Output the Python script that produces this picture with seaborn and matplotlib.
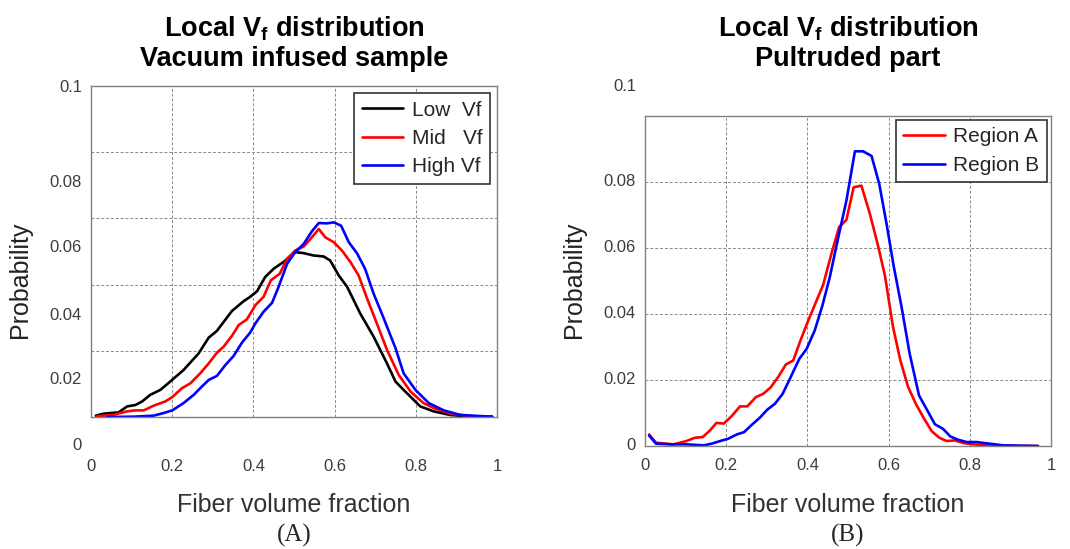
import numpy as np
import pandas as pd
import seaborn as sns
import matplotlib.pyplot as plt

sns.set_style("white")
plt.rcParams["font.family"] = ["Liberation Sans", "DejaVu Sans"]
plt.rcParams["mathtext.fontset"] = "custom"
plt.rcParams["mathtext.rm"] = "Liberation Sans"
plt.rcParams["mathtext.bf"] = "Liberation Sans:bold"

# Panel A: vacuum infused sample
low_x = [0.012, 0.031, 0.068, 0.089, 0.109, 0.126, 0.146, 0.171, 0.195, 0.228, 0.265, 0.29, 0.31,
         0.347, 0.376, 0.392, 0.409, 0.429, 0.45, 0.475, 0.503, 0.524, 0.548, 0.573, 0.589, 0.61,
         0.631, 0.663, 0.696, 0.729, 0.75, 0.774, 0.811, 0.844, 0.885, 0.926, 0.988]
low_y = [0.0004, 0.001, 0.0014, 0.0032, 0.0036, 0.0047, 0.0067, 0.0082, 0.0107, 0.0142, 0.0192,
         0.024, 0.026, 0.032, 0.035, 0.0363, 0.038, 0.0423, 0.0448, 0.0469, 0.0498, 0.0495, 0.0488,
         0.0485, 0.0473, 0.0428, 0.0393, 0.0313, 0.0243, 0.0162, 0.0107, 0.0077, 0.0032, 0.0017,
         0.0006, 0.0002, 0.0001]

mid_x = [0.015, 0.056, 0.089, 0.109, 0.13, 0.154, 0.183, 0.2, 0.224, 0.245, 0.269, 0.29, 0.31,
         0.327, 0.347, 0.364, 0.384, 0.405, 0.425, 0.443, 0.465, 0.483, 0.503, 0.524, 0.544, 0.561,
         0.577, 0.598, 0.618, 0.639, 0.659, 0.68, 0.704, 0.729, 0.758, 0.787, 0.819, 0.844, 0.885,
         0.943, 0.988]
mid_y = [0.0002, 0.0007, 0.0017, 0.002, 0.002, 0.0034, 0.0047, 0.006, 0.0087, 0.0102, 0.0132,
         0.0162, 0.0194, 0.0213, 0.0245, 0.0278, 0.0295, 0.0338, 0.0363, 0.0413, 0.0433, 0.0478,
         0.0503, 0.0515, 0.0543, 0.0568, 0.0543, 0.0528, 0.0503, 0.0468, 0.0428, 0.0358, 0.0283,
         0.0203, 0.0127, 0.0077, 0.0042, 0.0027, 0.001, 0.0002, 0.0001]

high_x = [0.039, 0.105, 0.154, 0.179, 0.2, 0.228, 0.253, 0.269, 0.29, 0.31, 0.331, 0.351, 0.372,
          0.392, 0.405, 0.425, 0.446, 0.462, 0.483, 0.503, 0.524, 0.544, 0.561, 0.581, 0.598, 0.616,
          0.635, 0.655, 0.675, 0.696, 0.721, 0.75, 0.77, 0.799, 0.832, 0.869, 0.91, 0.988]
high_y = [0.0, 0.0001, 0.0004, 0.0012, 0.002, 0.0042, 0.0067, 0.0087, 0.0112, 0.0124, 0.0157,
          0.0184, 0.0225, 0.0255, 0.0283, 0.0318, 0.0345, 0.0393, 0.0463, 0.0498, 0.0523, 0.0561,
          0.0586, 0.0585, 0.0588, 0.0578, 0.0528, 0.0495, 0.0448, 0.0373, 0.0298, 0.0208, 0.0132,
          0.0082, 0.0042, 0.002, 0.0006, 0.0001]

# Panel B: pultruded part
regA_x = [0.01, 0.027, 0.07, 0.102, 0.123, 0.142, 0.16, 0.176, 0.194, 0.213, 0.234, 0.252, 0.273,
          0.291, 0.309, 0.328, 0.347, 0.365, 0.383, 0.402, 0.421, 0.439, 0.459, 0.478, 0.496, 0.514,
          0.533, 0.554, 0.574, 0.591, 0.611, 0.629, 0.648, 0.667, 0.685, 0.706, 0.725, 0.743, 0.763,
          0.784, 0.808, 0.849, 0.907, 0.968]
regA_y = [0.0035, 0.001, 0.0005, 0.0015, 0.0025, 0.0027, 0.0047, 0.007, 0.0068, 0.009, 0.012, 0.012,
          0.0148, 0.0158, 0.0177, 0.0209, 0.0247, 0.0259, 0.032, 0.038, 0.0436, 0.0489, 0.0582,
          0.0663, 0.0685, 0.0784, 0.0789, 0.0703, 0.0607, 0.0516, 0.036, 0.0259, 0.0179, 0.0128,
          0.0088, 0.0045, 0.0025, 0.0015, 0.0017, 0.0009, 0.0005, 0.0001, 0.0, 0.0]

regB_x = [0.01, 0.027, 0.062, 0.102, 0.144, 0.164, 0.185, 0.205, 0.226, 0.244, 0.262, 0.283, 0.301,
          0.32, 0.339, 0.357, 0.38, 0.398, 0.418, 0.437, 0.455, 0.476, 0.496, 0.517, 0.537, 0.558,
          0.577, 0.595, 0.613, 0.632, 0.652, 0.675, 0.693, 0.714, 0.734, 0.752, 0.771, 0.792, 0.816,
          0.849, 0.882, 0.968]
regB_y = [0.0032, 0.0007, 0.0005, 0.0005, 0.0002, 0.0007, 0.0015, 0.0022, 0.0035, 0.0042, 0.0063,
          0.0086, 0.011, 0.0128, 0.0158, 0.0204, 0.0264, 0.0294, 0.035, 0.0426, 0.0511, 0.0632,
          0.0743, 0.0893, 0.0893, 0.0879, 0.0794, 0.0673, 0.0542, 0.0421, 0.0279, 0.0153, 0.0113,
          0.0066, 0.0052, 0.0029, 0.0019, 0.0012, 0.0012, 0.0007, 0.0002, 0.0]

xticks = [0, 0.2, 0.4, 0.6, 0.8, 1]
xtick_labels = ["0", "0.2", "0.4", "0.6", "0.8", "1"]
ygrid = [0.02, 0.04, 0.06, 0.08]
ytick_labels = ["0", "0.02", "0.04", "0.06", "0.08", "0.1"]
# where the y labels sit in the source picture (they are offset from the grid)
left_label_pos = [-0.0085, 0.0112, 0.0308, 0.0511, 0.0707, 0.0994]
right_label_pos = [0.0, 0.02, 0.04, 0.06, 0.08, 0.1088]

fig = plt.figure(figsize=(10.7, 5.49), dpi=100)
axA = fig.add_axes([91 / 1070, 1 - 417 / 549, 406 / 1070, 331 / 549])
axB = fig.add_axes([645 / 1070, 1 - 446 / 549, 406 / 1070, 330 / 549])


def style_axes(ax, label_pos, xpad, ylab_y, xlab_y, title, title_y):
    ax.set_xlim(0, 1)
    ax.set_ylim(0, 0.1)
    ax.set_xticks(xticks)
    ax.set_xticklabels(xtick_labels, fontsize=12, color="#3c3c3c")
    ax.set_yticks(ygrid)
    ax.set_yticklabels([])
    ax.tick_params(length=0)
    ax.tick_params(axis="x", pad=xpad)
    ax.grid(True, linestyle=(0, (3, 2)), color="#8a8a8a", linewidth=0.7)
    for s in ax.spines.values():
        s.set_color("#808080")
        s.set_linewidth(1.0)
    for v, t in zip(label_pos, ytick_labels):
        ax.text(-0.022, v, t, transform=ax.get_yaxis_transform(), ha="right", va="center",
                fontsize=12, color="#3c3c3c", clip_on=False)
    ax.set_ylabel("Probability", fontsize=18, color="#222222")
    ax.yaxis.set_label_coords(-0.145, ylab_y)
    ax.set_xlabel("Fiber volume fraction", fontsize=18, color="#333333")
    ax.xaxis.set_label_coords(0.5, xlab_y)
    ax.set_title(title, fontsize=19.5, fontweight="bold", color="black",
                 y=title_y, pad=0, linespacing=1.15)


sns.lineplot(x=low_x, y=low_y, color="black", lw=1.9, label="Low  Vf", ax=axA)
sns.lineplot(x=mid_x, y=mid_y, color="#ff0000", lw=1.9, label="Mid   Vf", ax=axA)
sns.lineplot(x=high_x, y=high_y, color="#0000ff", lw=1.9, label="High Vf", ax=axA)

sns.lineplot(x=regA_x, y=regA_y, color="#ff0000", lw=1.9, label="Region A", ax=axB)
sns.lineplot(x=regB_x, y=regB_y, color="#0000ff", lw=1.9, label="Region B", ax=axB)

style_axes(axA, left_label_pos, 30, 0.414, -0.23,
           "Local V$_\\mathbf{f}$ distribution\nVacuum infused sample", 1.06)
style_axes(axB, right_label_pos, 9, 0.503, -0.142,
           "Local V$_\\mathbf{f}$ distribution\nPultruded part", 1.152)

for ax, pad in [(axA, 0.35), (axB, 0.2)]:
    leg = ax.legend(loc="upper right", fontsize=15, frameon=True, fancybox=False,
                    edgecolor="#333333", framealpha=1, handlelength=2.0,
                    borderaxespad=pad, borderpad=0.35, labelspacing=0.45, handletextpad=0.4)
    leg.get_frame().set_linewidth(1.2)

fig.text(294 / 1070, 1 - 535 / 549, "(A)", family="Liberation Serif", fontsize=18,
         ha="center", va="center")
fig.text(848 / 1070, 1 - 535 / 549, "(B)", family="Liberation Serif", fontsize=18,
         ha="center", va="center")

fig.savefig("out.png", dpi=100)
